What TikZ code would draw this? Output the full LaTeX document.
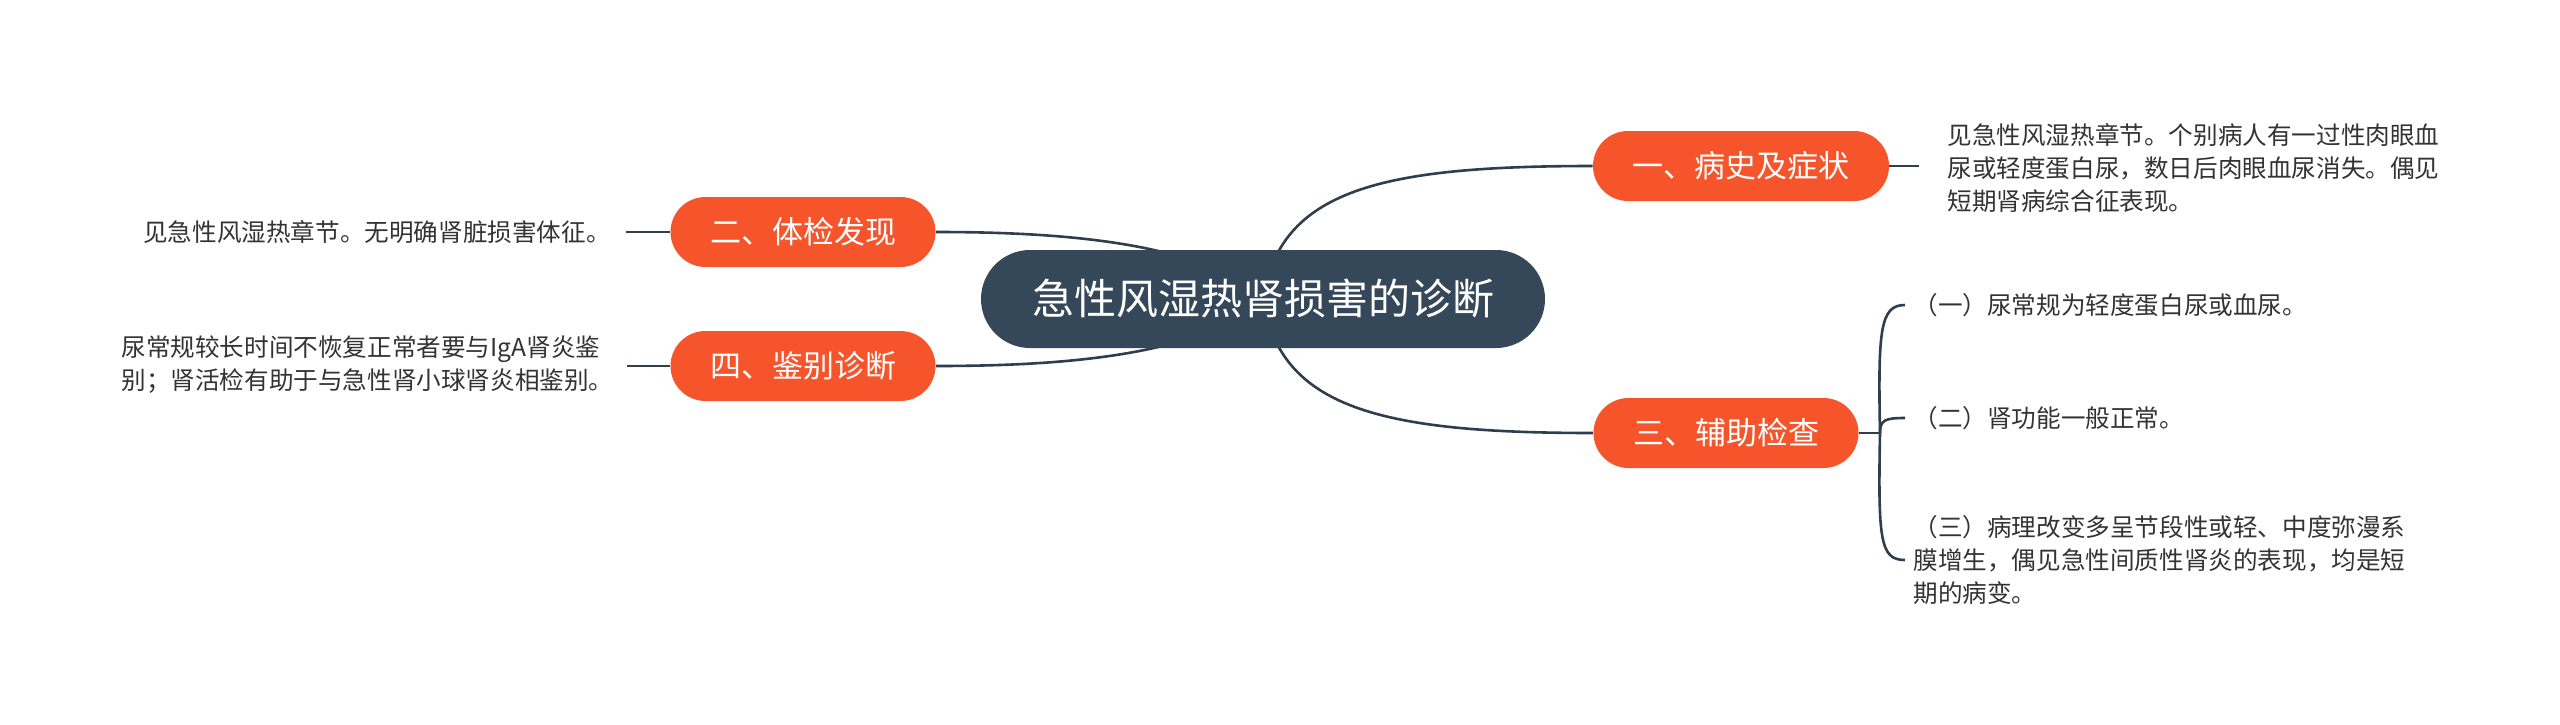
\documentclass[tikz,border=0pt]{standalone}
\usepackage{fontspec}
\setmainfont{Noto Sans CJK SC}
\usetikzlibrary{calc}
\definecolor{darktopic}{HTML}{354859}
\definecolor{topicorange}{HTML}{F6552B}
\definecolor{linec}{HTML}{2E3E4C}
\definecolor{txt}{HTML}{333333}
\pgfdeclarelayer{bg}
\pgfsetlayers{bg,main}
\begin{document}
\begin{tikzpicture}[x=0.5pt,y=-0.5pt,
 central/.style={fill=darktopic, rounded corners=24.5pt, minimum width=282pt, minimum height=49pt, text=white, font=\fontsize{21pt}{25pt}\selectfont, inner sep=0pt},
 topic/.style={fill=topicorange, rounded corners=17.5pt, minimum height=35pt, text=white, font=\fontsize{15.5pt}{18pt}\selectfont, inner sep=0pt},
 leaf/.style={text=txt, font=\fontsize{12.3pt}{16.5pt}\selectfont, align=left, inner sep=0pt},
 conn/.style={draw=linec, line width=1.3pt}
]
\useasboundingbox (0,0) rectangle (2560,724);
\node[central] (C) at (1263,299) {急性风湿热肾损害的诊断};
\node[topic, minimum width=148pt] (N1) at (1741,166) {一、病史及症状};
\node[topic, minimum width=132.5pt] (N3) at (1726,433) {三、辅助检查};
\node[topic, minimum width=132.5pt] (N2) at (803,232) {二、体检发现};
\node[topic, minimum width=132.5pt] (N4) at (803,366) {四、鉴别诊断};
\node[leaf, anchor=west] (T1) at (1947,168) {见急性风湿热章节。个别病人有一过性肉眼血\\尿或轻度蛋白尿，数日后肉眼血尿消失。偶见\\短期肾病综合征表现。};
\node[leaf, anchor=west] (T3a) at (1913,305) {（一）尿常规为轻度蛋白尿或血尿。};
\node[leaf, anchor=west] (T3b) at (1913,418) {（二）肾功能一般正常。};
\node[leaf, anchor=west] (T3c) at (1913,560) {（三）病理改变多呈节段性或轻、中度弥漫系\\膜增生，偶见急性间质性肾炎的表现，均是短\\期的病变。};
\node[leaf, anchor=east] (T2) at (611,232) {见急性风湿热章节。无明确肾脏损害体征。};
\node[leaf, anchor=west] (T4) at (121,365) {尿常规较长时间不恢复正常者要与IgA肾炎鉴\\别；肾活检有助于与急性肾小球肾炎相鉴别。};
\coordinate (J) at (1880,433);
\begin{pgfonlayer}{bg}
\fill[white] (0,0) rectangle (2560,724);
\draw[conn] (C.center) .. controls (1280,190) and (1380,166) .. (N1.west);
\draw[conn] (C.center) .. controls (1280,408) and (1380,433) .. (N3.west);
\draw[conn] (C.center) .. controls (1200,240) and (1050,232) .. (N2.east);
\draw[conn] (C.center) .. controls (1200,358) and (1050,366) .. (N4.east);
\draw[conn] (N1.east) -- ($(T1.west |- N1.east)+(-28,0)$);
\draw[conn] ($(T2.east)+(15,0)$) -- (N2.west);
\draw[conn] ($(T4.east |- N4.west)+(13,0)$) -- (N4.west);
\draw[conn] (N3.east) -- (J);
\draw[conn] (J) .. controls (1878,330) and (1880,305) .. ($(T3a.west)+(-8,0)$);
\draw[conn] (J) .. controls (1880,420) and (1885,418) .. ($(T3b.west)+(-8,0)$);
\draw[conn] (J) .. controls (1878,540) and (1880,560) .. ($(T3c.west)+(-8,0)$);
\end{pgfonlayer}
\end{tikzpicture}
\end{document}
